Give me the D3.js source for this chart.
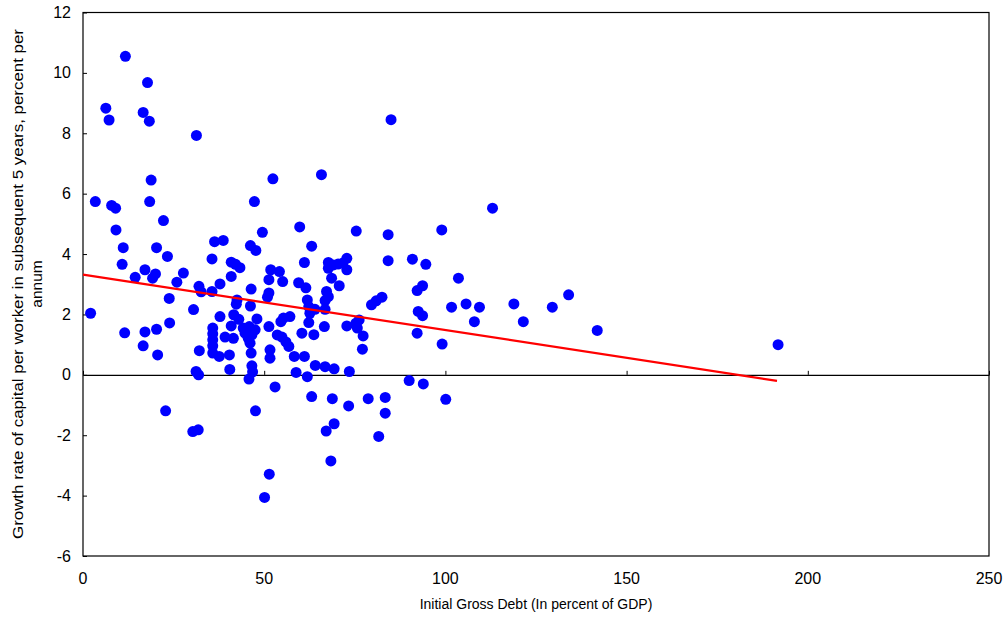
<!DOCTYPE html>
<html>
<head>
<meta charset="utf-8">
<script src="https://cdn.jsdelivr.net/npm/d3@7"></script>
<style>
  body { margin: 0; background: #fff; }
  text { font-family: "Liberation Sans", Arial, sans-serif; fill: #000; }
</style>
</head>
<body>
<script>
const width = 1008;
const height = 623;
const margin = ({top: 12.5, right: 19, bottom: 67, left: 83});

// initial debt (% of GDP), capital growth per worker (% p.a.)
const points = [
  [11.7,10.55],[17.8,9.68],[6.3,8.83],[7.2,8.44],[16.6,8.69],[18.3,8.40],[31.3,7.93],[85.0,8.45],
  [65.8,6.63],[52.4,6.49],[18.8,6.45],
  [3.4,5.74],[7.9,5.61],[9.0,5.52],[18.4,5.74],[47.3,5.74],[113.0,5.52],
  [22.2,5.11],[9.1,4.80],[59.8,4.90],[99.0,4.80],[75.4,4.76],[49.5,4.72],[84.2,4.64],
  [11.1,4.21],[20.3,4.21],[36.3,4.41],[38.7,4.45],[46.2,4.28],[47.7,4.12],[63.1,4.26],
  [23.3,3.92],[10.8,3.66],[35.6,3.84],[40.9,3.73],[42.1,3.66],[43.3,3.55],[61.1,3.72],
  [67.7,3.72],[69.1,3.64],[70.4,3.67],[71.7,3.70],[72.8,3.86],[67.7,3.53],[72.8,3.48],
  [84.2,3.78],[90.9,3.83],[94.6,3.66],
  [17.1,3.48],[20.0,3.34],[19.2,3.20],[27.7,3.37],[14.4,3.23],[25.9,3.07],
  [51.8,3.48],[54.2,3.42],[40.9,3.26],[51.3,3.15],[55.1,3.09],[68.6,3.20],[103.6,3.20],
  [32.0,2.93],[32.6,2.75],[37.8,3.01],[59.5,3.05],[46.4,2.84],[61.5,2.88],[35.6,2.76],[70.7,2.95],
  [51.3,2.71],[50.9,2.57],[42.5,2.48],[42.3,2.34],[61.9,2.48],[23.8,2.53],
  [67.2,2.76],[67.7,2.59],[66.8,2.46],[93.7,2.95],[92.2,2.79],[134.0,2.65],
  [79.6,2.32],[80.9,2.45],[82.5,2.57],
  [2.1,2.04],[30.5,2.16],[46.2,2.28],[62.3,2.26],[62.6,2.04],[64.0,2.17],[66.8,2.17],
  [92.5,2.10],[93.7,1.96],[101.7,2.24],[105.7,2.35],[109.4,2.24],[118.9,2.35],[129.5,2.24],
  [108.0,1.76],[121.5,1.76],[141.9,1.47],
  [23.9,1.72],[37.8,1.93],[41.6,1.99],[43.0,1.84],[48.0,1.85],[55.3,1.88],[57.1,1.93],[54.6,1.76],[62.3,1.73],
  [72.8,1.62],[75.3,1.71],[76.2,1.82],[75.7,1.55],[77.3,1.29],[66.6,1.60],
  [11.5,1.39],[17.1,1.42],[20.3,1.51],
  [35.8,1.55],[35.8,1.36],[35.8,1.16],[35.8,0.96],[35.8,0.72],
  [40.9,1.62],[44.2,1.55],[45.9,1.60],[47.5,1.49],[46.6,1.32],[45.6,1.21],[44.7,1.38],
  [51.3,1.60],[53.6,1.32],[54.9,1.25],[56.0,1.09],[56.8,0.94],[60.4,1.38],[63.7,1.33],
  [39.2,1.25],[41.5,1.21],[46.1,1.05],[92.2,1.38],[99.1,1.02],[191.8,1.00],
  [16.6,0.96],[20.6,0.66],[32.1,0.80],
  [37.6,0.61],[40.4,0.66],[51.6,0.83],[51.6,0.55],[46.4,0.72],[58.3,0.61],[61.1,0.61],[77.1,0.85],
  [64.1,0.31],[66.8,0.27],[69.3,0.20],[73.5,0.11],
  [31.2,0.11],[31.9,0.0],[40.5,0.18],[46.6,0.30],[46.8,0.10],
  [58.8,0.08],[45.8,-0.14],[61.9,-0.06],[53.0,-0.40],
  [90.0,-0.19],[93.9,-0.30],
  [22.8,-1.19],[30.3,-1.88],[31.8,-1.82],[47.6,-1.19],
  [63.1,-0.72],[68.8,-0.79],[73.3,-1.03],[78.7,-0.79],[83.4,-0.75],[83.4,-1.27],[100.1,-0.81],
  [69.3,-1.62],[67.1,-1.86],[81.6,-2.04],[68.4,-2.85],[51.4,-3.29],[50.1,-4.06]
];

// fitted trend line end points
const fitLine = [[0, 3.32], [191.5, -0.2]];

const xTicks = [0, 50, 100, 150, 200, 250];
const yTicks = [-6, -4, -2, 0, 2, 4, 6, 8, 10, 12];

const xTitle = "Initial Gross Debt (In percent of GDP)";
const yTitle = ["Growth rate of capital per worker in subsequent 5 years, percent per", "annum"];

let svg = null;
let x = null;
let y = null;

function initializeScales() {
  x = d3.scaleLinear()
    .domain([0, 250])
    .range([margin.left, width - margin.right]);

  y = d3.scaleLinear()
    .domain([-6, 12])
    .range([height - margin.bottom, margin.top]);
}

function drawChart() {
  svg = d3.select("body")
    .append("svg")
    .attr("width", width)
    .attr("height", height);

  // frame
  svg.append("rect")
    .attr("x", x(0))
    .attr("y", y(12))
    .attr("width", x(250) - x(0))
    .attr("height", y(-6) - y(12))
    .attr("fill", "#fff")
    .attr("stroke", "#000")
    .attr("stroke-width", 1.2);

  // y axis, ticks pointing inward
  const yAxis = svg.append("g")
    .attr("transform", `translate(${x(0)},0)`)
    .call(d3.axisRight(y).tickValues(yTicks).tickSize(4).tickFormat(""));
  yAxis.select(".domain").remove();

  svg.append("g")
    .selectAll("text")
    .data(yTicks)
    .join("text")
    .attr("x", x(0) - 12)
    .attr("y", d => y(d))
    .attr("dy", "0.35em")
    .attr("text-anchor", "end")
    .attr("font-size", 16)
    .text(d => d);

  // zero line with small ticks
  const xAxis = svg.append("g")
    .attr("transform", `translate(0,${y(0)})`)
    .call(d3.axisTop(x).tickValues(xTicks).tickSize(4).tickSizeOuter(0).tickFormat(""));
  xAxis.select(".domain").attr("stroke-width", 1.2);

  svg.append("g")
    .selectAll("text")
    .data(xTicks)
    .join("text")
    .attr("x", d => x(d))
    .attr("y", y(-6) + 22)
    .attr("dy", "0.35em")
    .attr("text-anchor", "middle")
    .attr("font-size", 16)
    .text(d => d);

  svg.append("g")
    .selectAll("circle")
    .data(points)
    .join("circle")
    .attr("cx", d => x(d[0]))
    .attr("cy", d => y(d[1]))
    .attr("r", 5.5)
    .attr("fill", "#0000ff");

  svg.append("line")
    .attr("x1", x(fitLine[0][0]))
    .attr("y1", y(fitLine[0][1]))
    .attr("x2", x(fitLine[1][0]))
    .attr("y2", y(fitLine[1][1]))
    .attr("stroke", "#ff0000")
    .attr("stroke-width", 2.2);

  svg.append("text")
    .attr("x", (x(0) + x(250)) / 2)
    .attr("y", 609)
    .attr("text-anchor", "middle")
    .attr("font-size", 14)
    .text(xTitle);

  const yMid = 284;
  svg.append("g")
    .selectAll("text")
    .data(yTitle)
    .join("text")
    .attr("transform", (d, i) => `translate(${23 + i * 19},${yMid}) rotate(-90)`)
    .attr("text-anchor", "middle")
    .attr("font-size", 15.5)
    .attr("textLength", (d, i) => i === 0 ? 510 : null)
    .attr("lengthAdjust", "spacingAndGlyphs")
    .text(d => d);
}

initializeScales();
drawChart();
</script>
</body>
</html>
